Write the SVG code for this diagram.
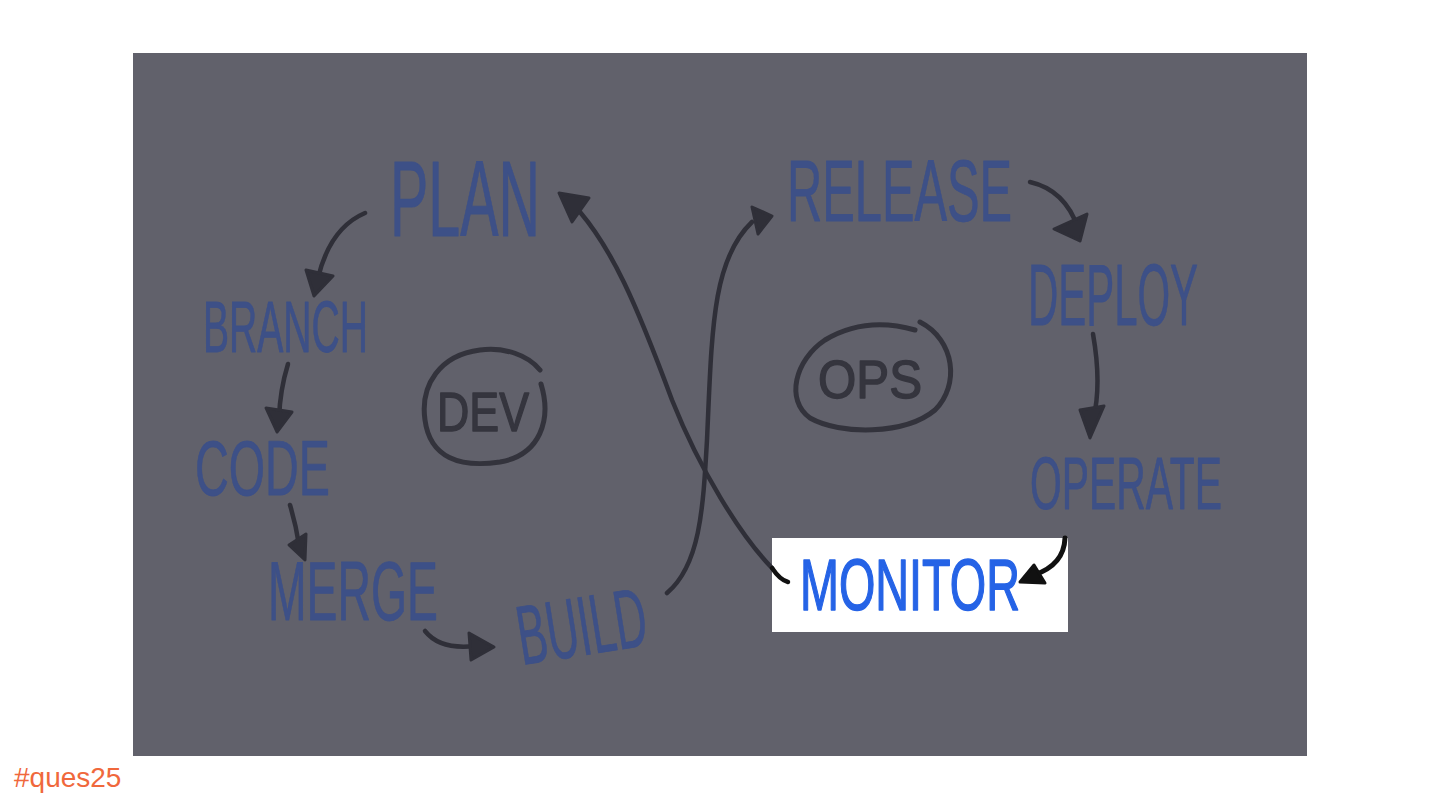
<svg xmlns="http://www.w3.org/2000/svg" width="1440" height="810" viewBox="0 0 1440 810">
<defs>
<style>
.lbl{font-family:"Liberation Sans Narrow","Liberation Sans",Arial,sans-serif;fill:#3d5087;stroke:#3d5087;stroke-width:0.8;stroke-linejoin:round}
.tag{font-family:"Liberation Sans","DejaVu Sans",sans-serif;fill:#35353e;stroke:#35353e;stroke-width:1.5;stroke-linejoin:round}
.loop{fill:none;stroke:#33333c;stroke-width:5;stroke-linecap:round}
.con{fill:none;stroke:#2f2f38;stroke-width:4.5;stroke-linecap:round}
.head{fill:#2f2f38;stroke:#2f2f38;stroke-width:3;stroke-linejoin:round}
</style>
</defs>
<rect x="0" y="0" width="1440" height="810" fill="#ffffff"/>
<rect x="133" y="53" width="1174" height="703" fill="#61616b"/>

<g id="monitor">
<rect x="772" y="538" width="296" height="94" fill="#ffffff"/>
<text x="800" y="610" font-family="'Liberation Sans Narrow','Liberation Sans',Arial,sans-serif" font-size="72" fill="#2563e6" stroke="#2563e6" stroke-width="1.5" stroke-linejoin="round" textLength="220" lengthAdjust="spacingAndGlyphs">MONITOR</text>
</g>

<g id="connectors">
<path class="con" d="M365,213 Q330,228 318,278"/>
<polygon class="head" points="306,270 333,276 314,296"/>
<path class="con" d="M288,364 Q280,390 279,418"/>
<polygon class="head" points="266,408 292,412 277,432"/>
<path class="con" d="M290,505 Q296,525 299,545"/>
<polygon class="head" points="289,545 306,534 305,560"/>
<path class="con" d="M425,631 Q440,650 475,646"/>
<polygon class="head" points="469,633 494,647 471,660"/>
<path class="con" d="M667,593 C700,565 703,510 707,440 C712,330 712,260 752,222"/>
<polygon class="head" points="752,207 772,216 758,234"/>
<path class="con" d="M772,568 C740,535 700,470 672,400 C635,300 612,250 580,212"/>
<path d="M772,568 Q780,580 788,582" fill="none" stroke="#111" stroke-width="4.5" stroke-linecap="round"/>
<polygon class="head" points="559,193 589,198 572,222"/>
<path class="con" d="M1030,182 Q1065,190 1078,228"/>
<polygon class="head" points="1054,229 1087,214 1080,241"/>
<path class="con" d="M1093,334 Q1102,385 1093,420"/>
<polygon class="head" points="1080,410 1104,406 1090,438"/>
<path d="M1065,538 Q1064,565 1034,575" fill="none" stroke="#111" stroke-width="5" stroke-linecap="round"/>
<polygon points="1020,582 1034,565 1045,583" fill="#111" stroke="#111" stroke-width="3" stroke-linejoin="round"/>
</g>

<g id="dev">
<path class="loop" d="M541,384 C552,420 540,455 500,462 C460,468 430,458 425,420 C420,385 440,355 480,350 C505,347 528,355 540,370"/>
<text class="tag" x="437" y="431" font-size="56" textLength="92" lengthAdjust="spacingAndGlyphs">DEV</text>
</g>

<g id="ops">
<path class="loop" d="M920,322 C955,340 960,385 935,410 C905,435 840,435 810,418 C785,400 795,360 825,340 C850,325 880,320 915,330"/>
<text class="tag" x="818" y="398" font-size="54" textLength="104" lengthAdjust="spacingAndGlyphs">OPS</text>
</g>

<g id="plan"><text class="lbl" x="390" y="236" font-size="108" textLength="150" lengthAdjust="spacingAndGlyphs">PLAN</text></g>
<g id="branch"><text class="lbl" x="203" y="352" font-size="72" textLength="165" lengthAdjust="spacingAndGlyphs">BRANCH</text></g>
<g id="code"><text class="lbl" x="195" y="495" font-size="78" textLength="135" lengthAdjust="spacingAndGlyphs">CODE</text></g>
<g id="merge"><text class="lbl" x="268" y="620" font-size="84" textLength="170" lengthAdjust="spacingAndGlyphs">MERGE</text></g>
<g id="build"><text class="lbl" x="522" y="665" font-size="84" textLength="130" lengthAdjust="spacingAndGlyphs" transform="rotate(-9 522 665)">BUILD</text></g>
<g id="release"><text class="lbl" x="787" y="221" font-size="88" textLength="225" lengthAdjust="spacingAndGlyphs">RELEASE</text></g>
<g id="deploy"><text class="lbl" x="1028" y="325" font-size="88" textLength="170" lengthAdjust="spacingAndGlyphs">DEPLOY</text></g>
<g id="operate"><text class="lbl" x="1030" y="509" font-size="74" textLength="192" lengthAdjust="spacingAndGlyphs">OPERATE</text></g>

<text x="14" y="787" font-family="'Liberation Sans',Arial,sans-serif" font-size="28" fill="#f0683c">#ques25</text>
</svg>
